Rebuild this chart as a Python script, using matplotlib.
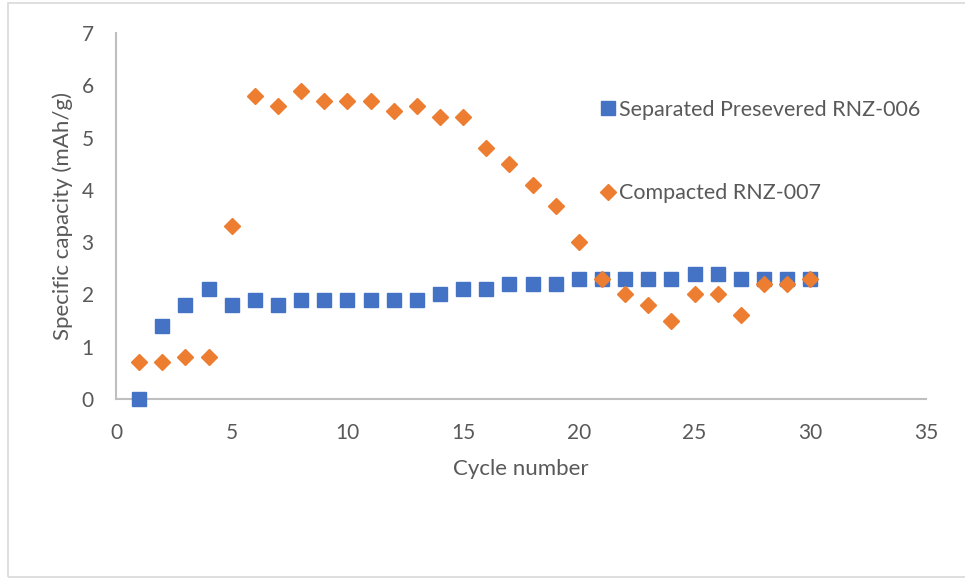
import matplotlib.pyplot as plt
from matplotlib.patches import Rectangle

cycles = list(range(1, 31))
separated_rnz006 = [0, 1.4, 1.8, 2.1, 1.8, 1.9, 1.8, 1.9, 1.9, 1.9,
                    1.9, 1.9, 1.9, 2.0, 2.1, 2.1, 2.2, 2.2, 2.2, 2.3,
                    2.3, 2.3, 2.3, 2.3, 2.4, 2.4, 2.3, 2.3, 2.3, 2.3]
compacted_rnz007 = [0.7, 0.7, 0.8, 0.8, 3.3, 5.8, 5.6, 5.9, 5.7, 5.7,
                    5.7, 5.5, 5.6, 5.4, 5.4, 4.8, 4.5, 4.1, 3.7, 3.0,
                    2.3, 2.0, 1.8, 1.5, 2.0, 2.0, 1.6, 2.2, 2.2, 2.3]
labels = ['Separated Presevered RNZ-006', 'Compacted RNZ-007']

plt.rcParams['font.family'] = ['Lato', 'DejaVu Sans']
text_grey = '#595959'
axis_grey = '#BFBFBF'

fig = plt.figure(figsize=(9.65, 5.79), dpi=100)
# light chart-area frame
fig.patches.append(Rectangle((8 / 965, 2 / 579), 1.2, 574 / 579, transform=fig.transFigure,
                             fill=False, edgecolor='#D9D9D9', linewidth=1.2))

ax = fig.add_axes([116 / 965, 1 - 399 / 579, (926 - 116) / 965, (399 - 33) / 579])
ax.plot(cycles, separated_rnz006, linestyle='none', marker='s', markersize=10.5,
        color='#4472C4', label=labels[0], clip_on=False, zorder=3)
ax.plot(cycles, compacted_rnz007, linestyle='none', marker='D', markersize=8,
        color='#ED7D31', label=labels[1], clip_on=False, zorder=4)

ax.set_xlim(0, 35)
ax.set_ylim(0, 7)
ax.set_xticks(range(0, 36, 5))
ax.set_yticks(range(0, 8))
ax.tick_params(length=0, labelsize=15, colors=text_grey)
ax.tick_params(axis='x', pad=17)
ax.tick_params(axis='y', pad=16)
for s in ['top', 'right']:
    ax.spines[s].set_visible(False)
for s in ['left', 'bottom']:
    ax.spines[s].set_color(axis_grey)
    ax.spines[s].set_linewidth(1.5)

ax.set_xlabel('Cycle number', fontsize=16, color=text_grey, labelpad=12)
ax.set_ylabel('Specific capacity (mAh/g)', fontsize=16, color=text_grey, labelpad=6)

ax.legend(loc='upper left', bbox_to_anchor=(591 / 965, 1 - 89 / 579),
          bbox_transform=fig.transFigure, frameon=False, fontsize=15.5,
          labelcolor=text_grey, labelspacing=2.95, handlelength=0.6,
          handletextpad=0.2, borderpad=0)

plt.savefig('out.png', dpi=100)
